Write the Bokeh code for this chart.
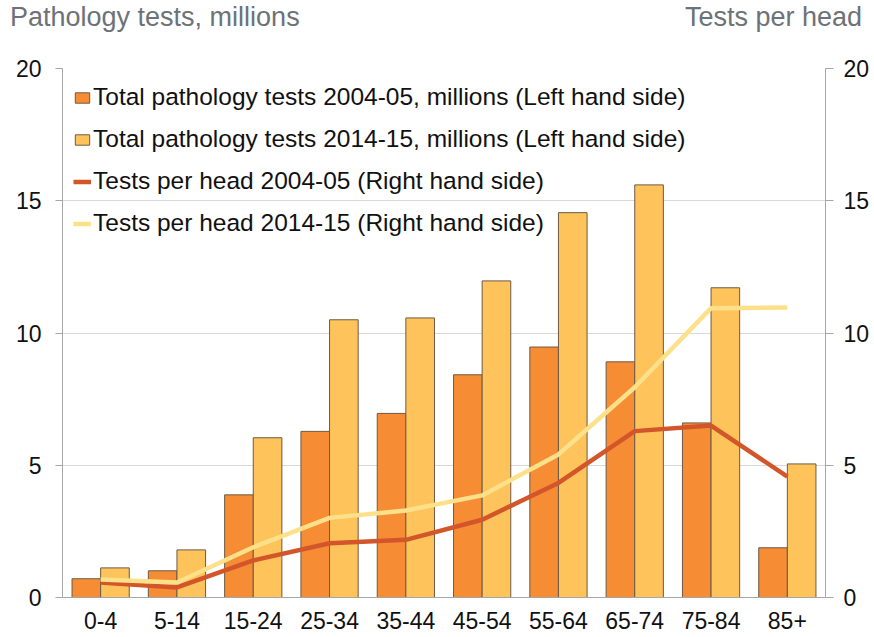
from bokeh.plotting import figure
from bokeh.models import (ColumnDataSource, Range1d, LinearAxis, FixedTicker,
                          FactorRange, Div)
from bokeh.layouts import column
from bokeh.transform import dodge
from bokeh.embed import file_html
from bokeh.resources import INLINE

# ---- data ----
age_groups = ["0-4", "5-14", "15-24", "25-34", "35-44", "45-54", "55-64", "65-74", "75-84", "85+"]
tests_2004 = [0.71, 1.01, 3.88, 6.28, 6.96, 8.42, 9.47, 8.91, 6.60, 1.88]
tests_2014 = [1.12, 1.80, 6.04, 10.50, 10.57, 11.97, 14.55, 15.60, 11.71, 5.05]
per_head_2004 = [0.57, 0.38, 1.40, 2.05, 2.18, 2.94, 4.33, 6.29, 6.50, 4.57]
per_head_2014 = [0.68, 0.57, 1.90, 3.01, 3.29, 3.86, 5.41, 7.95, 10.94, 10.96]
y_ticks = [0, 5, 10, 15, 20]
left_title = "Pathology tests, millions"
right_title = "Tests per head"

FONT = "Liberation Sans"

src = ColumnDataSource(dict(cat=age_groups, t04=tests_2004, t14=tests_2014,
                            h04=per_head_2004, h14=per_head_2014))

p = figure(width=874, height=597, x_range=FactorRange(*age_groups),
           y_range=Range1d(0, 20), output_backend="svg", toolbar_location=None,
           min_border_left=62, min_border_right=49, min_border_top=28,
           min_border_bottom=40)
p.extra_y_ranges = {"right": Range1d(0, 20)}
p.outline_line_color = None
p.background_fill_color = "white"

# bars
p.vbar(x=dodge("cat", -0.1875, range=p.x_range), top="t04", width=0.375,
       source=src, fill_color="#F68D34", line_color="#6E5A44", line_width=1,
       legend_label="Total pathology tests 2004-05, millions (Left hand side)")
p.vbar(x=dodge("cat", 0.1875, range=p.x_range), top="t14", width=0.375,
       source=src, fill_color="#FEC35A", line_color="#6E5A44", line_width=1,
       legend_label="Total pathology tests 2014-15, millions (Left hand side)")

# lines
p.line(x="cat", y="h04", source=src, y_range_name="right", line_color="#D3552A",
       line_width=4.5, line_join="round",
       legend_label="Tests per head 2004-05 (Right hand side)")
p.line(x="cat", y="h14", source=src, y_range_name="right", line_color="#FDE18A",
       line_width=4.5, line_join="round",
       legend_label="Tests per head 2014-15 (Right hand side)")

# axes
axis_col = "#A6A6A6"
p.yaxis.ticker = FixedTicker(ticks=y_ticks)
p.yaxis.axis_line_color = axis_col
p.yaxis.major_tick_line_color = axis_col
p.yaxis.major_tick_out = 7
p.yaxis.major_tick_in = 0
p.yaxis.minor_tick_line_color = None
p.yaxis.major_label_standoff = 14
p.yaxis.major_label_text_font = FONT
p.yaxis.major_label_text_font_size = "23px"
p.yaxis.major_label_text_color = "#111111"

ra = LinearAxis(y_range_name="right", ticker=FixedTicker(ticks=y_ticks))
ra.axis_line_color = axis_col
ra.major_tick_line_color = axis_col
ra.major_tick_out = 8
ra.major_tick_in = 0
ra.minor_tick_line_color = None
ra.major_label_standoff = 10
ra.major_label_text_font = FONT
ra.major_label_text_font_size = "23px"
ra.major_label_text_color = "#111111"
p.add_layout(ra, "right")

p.xaxis.axis_line_color = axis_col
p.xaxis.major_tick_line_color = None
p.xaxis.minor_tick_line_color = None
p.xaxis.major_tick_out = 0
p.xaxis.major_label_standoff = 14
p.xaxis.major_label_text_font = FONT
p.xaxis.major_label_text_font_size = "23px"
p.xaxis.major_label_text_color = "#111111"

p.xgrid.grid_line_color = None
p.ygrid.grid_line_color = "#D9D9D9"
p.ygrid.grid_line_width = 1
p.ygrid.ticker = FixedTicker(ticks=y_ticks)

# legend
lg = p.legend[0]
lg.location = "top_left"
lg.margin = 11
lg.padding = 15
lg.background_fill_alpha = 0
lg.border_line_color = None
lg.label_text_font = FONT
lg.label_text_font_size = "24.5px"
lg.label_text_color = "#111111"
lg.glyph_width = 18
lg.glyph_height = 13
lg.label_standoff = 2
lg.label_height = 36
lg.spacing = 6

# header titles
header_html = (
    '<div style="position:relative;width:874px;height:40px;'
    "font-family:'Liberation Sans',Arial,sans-serif;font-size:27px;line-height:27px;"
    'color:#6D7278;white-space:nowrap;">'
    '<span style="position:absolute;left:10px;top:4px;">' + left_title + '</span>'
    '<span style="position:absolute;right:12px;top:4px;">' + right_title + '</span>'
    '</div>'
)
header = Div(text=header_html, width=874, height=40, margin=0)

layout = column(header, p, spacing=0)
open("out.html", "w").write(file_html(layout, INLINE))
